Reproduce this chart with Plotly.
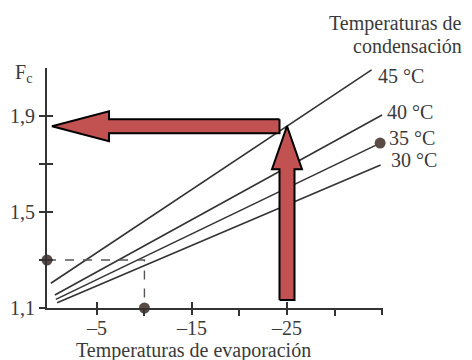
import plotly.graph_objects as go

# Condensing-temperature curves: F_c versus evaporating temperature
cond_labels = ["45 °C", "40 °C", "35 °C", "30 °C"]
line_x = [[-0.16, -33.9], [-0.58, -35.0], [-0.68, -34.8], [-0.82, -34.85]]
line_y = [[1.203, 2.092], [1.154, 1.904], [1.136, 1.787], [1.122, 1.696]]

x_ticks = [-5, -10, -15, -20, -25, -30, -35]
x_label_vals = [-5, -15, -25]
x_label_text = ["–5", "–15", "–25"]
y_ticks = [1.1, 1.3, 1.5, 1.7, 1.9]
y_label_vals = [1.1, 1.5, 1.9]
y_label_text = ["1,1", "1,5", "1,9"]

# worked example (dashed) and the read-off point at -25 °C
example_t = -10
example_fc = 1.3
read_t = -25

X_RANGE = [0.25, -35.1]
Y_RANGE = [1.1, 2.1]

W, H = 472, 360
L, R, T, B = 47, 89, 68, 52
plot_w = W - L - R
plot_h = H - T - B
px_x = plot_w / abs(X_RANGE[1] - X_RANGE[0])   # pixels per °C
px_y = plot_h / (Y_RANGE[1] - Y_RANGE[0])      # pixels per F_c unit

FONT = "Liberation Serif"
TXT = "#3a3a3a"
INK = "#333333"
DOT = "#5b4b45"
ARROW = "#c25252"

fig = go.Figure()

for xs, ys in zip(line_x, line_y):
    fig.add_trace(go.Scatter(x=xs, y=ys, mode="lines",
                             line=dict(color=INK, width=1.6),
                             hoverinfo="skip", showlegend=False))

# dashed construction lines and markers
fig.add_trace(go.Scatter(x=[X_RANGE[0], example_t, example_t],
                         y=[example_fc, example_fc, Y_RANGE[0]],
                         mode="lines", line=dict(color="#555555", width=1.4, dash="dash"),
                         hoverinfo="skip", showlegend=False))
fig.add_trace(go.Scatter(x=[X_RANGE[0], example_t, line_x[2][1]],
                         y=[example_fc, Y_RANGE[0], line_y[2][1]],
                         mode="markers", marker=dict(color=DOT, size=11),
                         cliponaxis=False, hoverinfo="skip", showlegend=False))

# value of the 45 °C line at the read-off temperature
x0, x1 = line_x[0]
y0, y1 = line_y[0]
hit = y0 + (y1 - y0) * (read_t - x0) / (x1 - x0)

# vertical arrow (up from the x axis to the 45 °C line)
sw = 7.5 / px_x
hw = 15 / px_x
hl = 43 / px_y
base = Y_RANGE[0] + 8 / px_y
vx = [read_t + sw, read_t + sw, read_t + hw, read_t, read_t - hw, read_t - sw, read_t - sw, read_t + sw]
vy = [base, hit - hl, hit - hl, hit, hit - hl, hit - hl, base, base]
fig.add_trace(go.Scatter(x=vx, y=vy, mode="lines", fill="toself", fillcolor=ARROW,
                         line=dict(color="black", width=2), hoverinfo="skip", showlegend=False))

# horizontal arrow (left to the F_c axis)
sh = 7 / px_y
hh = 15 / px_y
hlx = 57 / px_x
tip = X_RANGE[0] - 5 / px_x
right = read_t + sw
hx = [right, tip - hlx, tip - hlx, tip, tip - hlx, tip - hlx, right, right]
hy = [hit + sh, hit + sh, hit + hh, hit, hit - hh, hit - sh, hit - sh, hit + sh]
fig.add_trace(go.Scatter(x=hx, y=hy, mode="lines", fill="toself", fillcolor=ARROW,
                         line=dict(color="black", width=2), hoverinfo="skip", showlegend=False))

# invisible trace that carries the overlay axes (the other half of each tick)
fig.add_trace(go.Scatter(x=[None], y=[None], xaxis="x2", yaxis="y2",
                         mode="markers", showlegend=False, hoverinfo="skip"))

# curve labels
label_shift = [(4, -6), (3, 3), (7, 5), (8, 5)]
for lab, xs, ys, (dx, dy) in zip(cond_labels, line_x, line_y, label_shift):
    fig.add_annotation(x=xs[1], y=ys[1], text=lab, showarrow=False,
                       xanchor="left", yanchor="middle", xshift=dx, yshift=dy,
                       font=dict(family=FONT, size=20, color=TXT))

def paper_x(px):
    return (px - L) / plot_w

def paper_y(py):
    return (H - B - py) / plot_h

fig.add_annotation(x=paper_x(464), y=paper_y(23), xref="paper", yref="paper",
                   text="Temperaturas de", showarrow=False, xanchor="right", yanchor="middle",
                   font=dict(family=FONT, size=20, color=TXT))
fig.add_annotation(x=paper_x(464), y=paper_y(46), xref="paper", yref="paper",
                   text="condensación", showarrow=False, xanchor="right", yanchor="middle",
                   font=dict(family=FONT, size=20, color=TXT))
fig.add_annotation(x=paper_x(193), y=paper_y(350), xref="paper", yref="paper",
                   text="Temperaturas de evaporación", showarrow=False,
                   xanchor="center", yanchor="middle",
                   font=dict(family=FONT, size=20, color=TXT))
fig.add_annotation(x=paper_x(24), y=paper_y(73), xref="paper", yref="paper",
                   text="F<sub>c</sub>", showarrow=False, xanchor="center", yanchor="middle",
                   font=dict(family=FONT, size=20, color=TXT))

axis_common = dict(showgrid=False, zeroline=False, ticklen=6, tickwidth=1.6,
                   tickcolor=INK)
x_minor = dict(tickmode="array", tickvals=[v for v in x_ticks if v not in x_label_vals],
               ticklen=6, tickwidth=1.6, tickcolor=INK, showgrid=False)
y_minor = dict(tickmode="array", tickvals=[v for v in y_ticks if v not in y_label_vals],
               ticklen=6, tickwidth=1.6, tickcolor=INK, showgrid=False)

fig.update_layout(
    width=W, height=H,
    margin=dict(l=L, r=R, t=T, b=B, autoexpand=False),
    paper_bgcolor="white", plot_bgcolor="white",
    font=dict(family=FONT, size=20, color=TXT),
    xaxis=dict(range=X_RANGE, tickvals=x_label_vals, ticktext=x_label_text, ticks="inside",
               minor=x_minor, ticklabelstandoff=1,
               showline=True, linecolor=INK, linewidth=2, **axis_common),
    yaxis=dict(range=Y_RANGE, tickvals=y_label_vals, ticktext=y_label_text, ticks="outside",
               minor=y_minor,
               showline=True, linecolor=INK, linewidth=2, **axis_common),
    xaxis2=dict(range=X_RANGE, tickvals=x_ticks, ticks="outside", showticklabels=False,
                overlaying="x", anchor="y2", showline=False, **axis_common),
    yaxis2=dict(range=Y_RANGE, tickvals=y_ticks, ticks="inside", showticklabels=False,
                overlaying="y", anchor="x2", showline=False, **axis_common),
)

fig.write_html("out.html")
